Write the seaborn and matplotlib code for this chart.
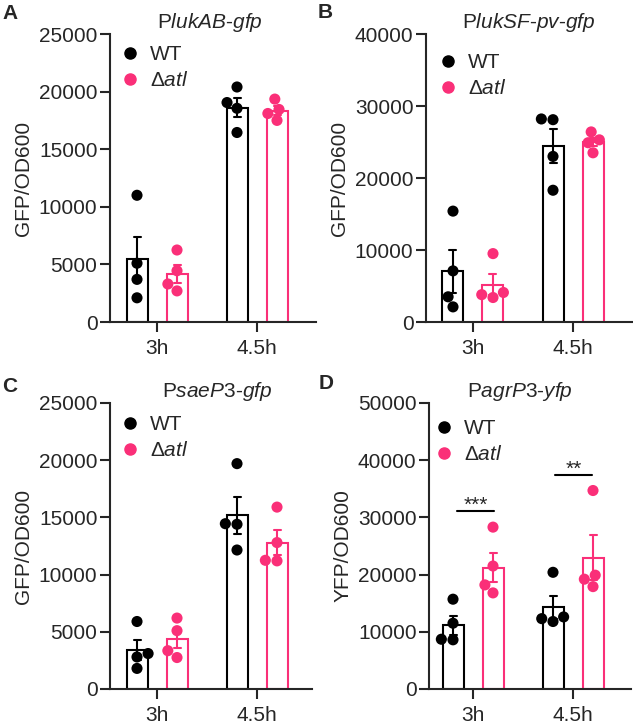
import pandas as pd
import matplotlib
matplotlib.use("Agg")
import matplotlib.pyplot as plt
from matplotlib.lines import Line2D
import seaborn as sns

# groups and colours
times = ["3h", "4.5h"]
genotypes = ["WT", "Δ$\\mathit{atl}$"]
colors = ["#000000", "#FA2F78"]

# readings per panel: four replicates each (3h then 4.5h)
a_wt_3h = [11000, 5100, 3700, 2100]
a_atl_3h = [6250, 4450, 3300, 2700]
a_wt_45 = [20400, 19050, 18550, 16450]
a_atl_45 = [19350, 18450, 18100, 17500]

b_wt_3h = [15400, 7100, 3500, 2100]
b_atl_3h = [9500, 4100, 3800, 3400]
b_wt_45 = [28200, 28100, 23000, 18300]
b_atl_45 = [26400, 25300, 24900, 23500]

c_wt_3h = [5900, 3100, 2800, 1800]
c_atl_3h = [6200, 5100, 3350, 2750]
c_wt_45 = [19700, 14450, 14400, 12150]
c_atl_45 = [15900, 12800, 11250, 11200]

d_wt_3h = [15700, 11500, 8700, 8600]
d_atl_3h = [28300, 21500, 18200, 16800]
d_wt_45 = [20400, 12600, 12300, 11800]
d_atl_45 = [34700, 19900, 19200, 17900]

titles = ["P$\\mathit{lukAB}$-$\\mathit{gfp}$",
          "P$\\mathit{lukSF}$-$\\mathit{pv}$-$\\mathit{gfp}$",
          "P$\\mathit{saeP3}$-$\\mathit{gfp}$",
          "P$\\mathit{agrP3}$-$\\mathit{yfp}$"]
ylabels = ["GFP/OD600", "GFP/OD600", "GFP/OD600", "YFP/OD600"]
letters = ["A", "B", "C", "D"]
ymax = [25000, 40000, 25000, 50000]
ystep = [5000, 10000, 5000, 10000]

# significance marks in panel D: (time, label, bar height)
sig_marks = [("3h", "***", 31200), ("4.5h", "**", 37400)]

sns.set_style("ticks")
plt.rcParams["font.family"] = ["Liberation Sans", "DejaVu Sans"]
plt.rcParams["mathtext.fontset"] = "custom"
plt.rcParams["mathtext.rm"] = "Liberation Sans"
plt.rcParams["mathtext.it"] = "Liberation Sans:italic"
plt.rcParams["font.size"] = 15


def make_frame(wt3, atl3, wt45, atl45):
    rows = []
    for t, vals_wt, vals_atl in [("3h", wt3, atl3), ("4.5h", wt45, atl45)]:
        for v in vals_wt:
            rows.append({"time": t, "genotype": genotypes[0], "value": v})
        for v in vals_atl:
            rows.append({"time": t, "genotype": genotypes[1], "value": v})
    return pd.DataFrame(rows)


frames = [make_frame(a_wt_3h, a_atl_3h, a_wt_45, a_atl_45),
          make_frame(b_wt_3h, b_atl_3h, b_wt_45, b_atl_45),
          make_frame(c_wt_3h, c_atl_3h, c_wt_45, c_atl_45),
          make_frame(d_wt_3h, d_atl_3h, d_wt_45, d_atl_45)]

W, H = 633, 728
# axes boxes in pixels: left, right, top, bottom
boxes = [(110, 316, 34, 322), (426, 632, 34, 322),
         (110, 312, 403, 689), (429, 631, 403, 689)]
title_x = [0.485, 0.50, 0.53, 0.45]
legend_anchor = [(0.057, 0.962), (0.066, 0.934), (0.058, 0.958), (0.033, 0.944)]
letter_pos = [(2, 4), (318, 3), (2, 377), (319, 374)]

fig = plt.figure(figsize=(W / 100, H / 100), dpi=100)

for i, df in enumerate(frames):
    l, r, t, b = boxes[i]
    ax = fig.add_axes([l / W, 1 - b / H, (r - l) / W, (b - t) / H])

    # one call per genotype so each error bar gets its own colour
    for g, c in zip(genotypes, colors):
        sns.barplot(data=df[df["genotype"] == g], x="time", y="value",
                    hue="genotype", hue_order=genotypes, order=times,
                    palette=colors, dodge=True, fill=False, linewidth=1.5,
                    gap=0.475, errorbar="se", capsize=0.14,
                    err_kws={"color": c, "linewidth": 1.5},
                    legend=False, ax=ax)
    sns.swarmplot(data=df, x="time", y="value", hue="genotype",
                  hue_order=genotypes, order=times, palette=colors,
                  dodge=True, size=8, linewidth=0, legend=False,
                  zorder=3, ax=ax)

    x0_px = 157 if i % 2 == 0 else 473
    ax.set_xlim((l - x0_px) / 100.0, (r - x0_px) / 100.0)
    ax.set_ylim(0, ymax[i])
    ax.set_yticks(range(0, ymax[i] + 1, ystep[i]))
    ax.set_xlabel("")
    ax.set_ylabel(ylabels[i], fontsize=15, labelpad=4)
    ax.set_title(titles[i], fontsize=15, pad=4, x=title_x[i])
    sns.despine(ax=ax)
    for s in ["left", "bottom"]:
        ax.spines[s].set_linewidth(1.5)
    ax.tick_params(axis="both", length=7, width=1.5, labelsize=15)
    ax.tick_params(axis="y", pad=2)
    ax.tick_params(axis="x", pad=5)

    handles = [Line2D([], [], marker="o", ls="", color=c, markersize=8)
               for c in colors]
    ax.legend(handles, genotypes, loc="upper left",
              bbox_to_anchor=legend_anchor[i], frameon=False, fontsize=15,
              borderpad=0, borderaxespad=0, handlelength=0.8,
              handletextpad=0.55, labelspacing=0.35)

    lx, ly = letter_pos[i]
    fig.text(lx / W, 1 - ly / H, letters[i], fontsize=15, fontweight="bold",
             ha="left", va="top")

    if i == 3:
        for tm, lab, yv in sig_marks:
            xc = times.index(tm)
            x0, x1 = (xc - 0.16, xc + 0.21) if xc == 0 else (xc - 0.18, xc + 0.19)
            ax.plot([x0, x1], [yv, yv], color="black", lw=1.5)
            ax.text((x0 + x1) / 2, yv, lab, ha="center", va="baseline",
                    fontsize=15)

fig.savefig("out.png", dpi=100)
